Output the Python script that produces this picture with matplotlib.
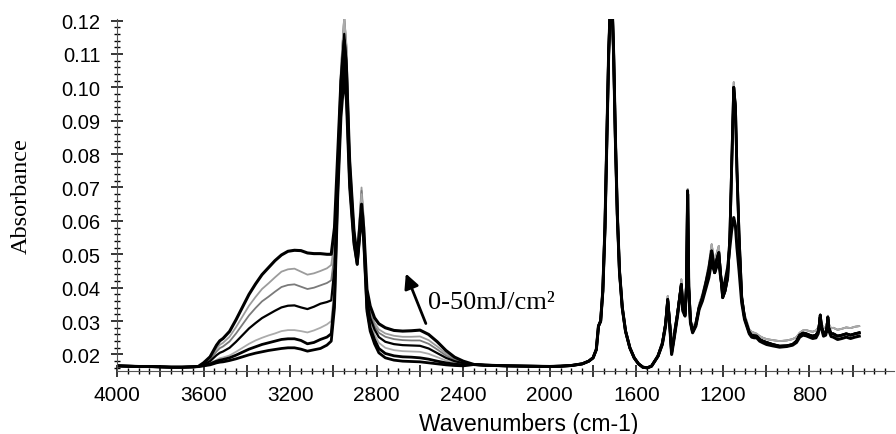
import matplotlib
matplotlib.use("Agg")
import matplotlib.pyplot as plt
from matplotlib.ticker import MultipleLocator, FuncFormatter

# wavenumber grids (cm-1)
wn_lo = [4000, 3950, 3900, 3850, 3800, 3750, 3700, 3650, 3625]
wn_hi = [3600, 3570, 3540, 3525, 3510, 3480, 3450, 3420, 3390, 3360,
         3330, 3300, 3270, 3240, 3210, 3180, 3150, 3120, 3090, 3060,
         3030, 3010, 2995, 2980, 2965, 2950, 2940, 2925, 2905, 2890,
         2880, 2870, 2860, 2845, 2830, 2810, 2790, 2760, 2720, 2680,
         2640, 2600, 2560, 2520, 2480, 2440, 2400]
wn_mid = [2350, 2300, 2200, 2100, 2000, 1950, 1900, 1850, 1820, 1800,
          1785, 1775, 1765, 1755, 1745, 1735, 1728, 1720, 1712, 1705,
          1697, 1688, 1678, 1665, 1650, 1630, 1610, 1590, 1570, 1550,
          1530, 1515]
wn_fp = [1500, 1480, 1465, 1455, 1445, 1437, 1425, 1410, 1400, 1392,
         1385, 1375, 1368, 1363, 1358, 1350, 1340, 1325, 1310, 1295,
         1280, 1265, 1252, 1245, 1238, 1230, 1219, 1210, 1201, 1190,
         1178, 1168, 1160, 1150, 1142, 1135, 1125, 1113, 1100, 1090,
         1078, 1067, 1055, 1044, 1030, 1015, 998, 970, 938, 905,
         878, 860, 845, 830, 815, 800, 785, 770, 760, 755,
         750, 745, 735, 725, 719, 715, 711, 700, 690, 670,
         650, 630, 610, 590, 570]

# absorbance, parts shared by all doses
abs_lo = [.0166, .0165, .0164, .0164, .0163, .0162, .0162, .0163, .0164]
abs_mid = [.0170, .0168, .0166, .0165, .0164, .0165, .0167, .0172, .0180, .0190,
           .0215, .0285, .0300, .0390, .0580, .0880, .1100, .1250, .1250, .1100,
           .0850, .0620, .0450, .0340, .0270, .0220, .0190, .0172, .0162, .0160,
           .0165, .0180]

# OH / CH region, one list per dose (top curve first)
hi_c1 = [.0175, .0193, .0228, .0241, .0248, .0269, .0304, .0342, .0380, .0411,
         .0439, .0460, .0481, .0498, .0509, .0512, .0511, .0504, .0502, .0502,
         .0500, .0500, .058, .080, .102, .114, .106, .078, .057, .049,
         .057, .065, .058, .0395, .0345, .0310, .0292, .0280, .0272, .0270,
         .0271, .0273, .0260, .0238, .0212, .0192, .0180]
hi_c2 = [.0174, .0188, .0218, .0229, .0235, .0253, .0282, .0314, .0346, .0372,
         .0396, .0413, .0431, .0448, .0455, .0457, .0448, .0439, .0443, .0450,
         .0458, .0468, .054, .080, .106, .121, .113, .080, .058, .050,
         .060, .070, .061, .039, .033, .0295, .0275, .0263, .0256, .0253,
         .0253, .0254, .0243, .0224, .0203, .0188, .0178]
hi_c3 = [.0172, .0185, .0209, .0219, .0224, .0239, .0263, .0290, .0317, .0339,
         .0359, .0373, .0388, .0402, .0408, .0410, .0403, .0396, .0400, .0407,
         .0414, .0422, .050, .078, .105, .121, .112, .079, .057, .049,
         .059, .069, .060, .038, .032, .0285, .0265, .0253, .0246, .0243,
         .0242, .0242, .0232, .0215, .0197, .0184, .0176]
hi_c4 = [.0170, .0180, .0198, .0205, .0209, .0220, .0238, .0258, .0278, .0294,
         .0309, .0320, .0331, .0341, .0346, .0347, .0341, .0336, .0343, .0352,
         .0357, .0362, .046, .075, .102, .116, .108, .076, .056, .048,
         .056, .064, .056, .037, .031, .0275, .0252, .0238, .0231, .0228,
         .0227, .0226, .0218, .0204, .0190, .0180, .0174]
hi_c5 = [.0168, .0174, .0184, .0189, .0191, .0197, .0208, .0220, .0232, .0242,
         .0250, .0257, .0263, .0270, .0273, .0273, .0270, .0266, .0272, .0280,
         .0290, .0300, .040, .074, .104, .121, .112, .078, .057, .049,
         .059, .068, .059, .036, .030, .026, .0235, .0220, .0213, .0210,
         .0209, .0208, .0202, .0192, .0182, .0176, .0172]
hi_c6 = [.0167, .0172, .0180, .0183, .0185, .0190, .0198, .0207, .0216, .0223,
         .0230, .0235, .0240, .0245, .0247, .0247, .0242, .0232, .0236, .0245,
         .0252, .0262, .037, .070, .095, .108, .100, .072, .054, .047,
         .055, .063, .055, .034, .028, .0245, .0218, .0203, .0196, .0193,
         .0192, .0190, .0186, .0180, .0175, .0171, .0169]
hi_c7 = [.0166, .0169, .0175, .0177, .0178, .0182, .0187, .0193, .0199, .0204,
         .0208, .0212, .0215, .0218, .0220, .0220, .0216, .0210, .0214, .0218,
         .0228, .0240, .034, .067, .091, .103, .096, .070, .053, .047,
         .054, .062, .054, .033, .027, .0232, .0205, .0190, .0183, .0180,
         .0179, .0178, .0175, .0172, .0169, .0167, .0166]

# fingerprint region, three shapes seen in the picture
fp_gray = [.0200, .0240, .0300, .0375, .0300, .0240, .0270, .0330, .0380, .0425,
           .0350, .0330, .0420, .0695, .0420, .0310, .0275, .0300, .0350, .0380,
           .0420, .0470, .0530, .0500, .0470, .0500, .0525, .0450, .0380, .0400,
           .0440, .0560, .0760, .1015, .0950, .0760, .0560, .0380, .0320, .0300,
           .0275, .0268, .0265, .0262, .0255, .0250, .0246, .0243, .0240, .0242,
           .0246, .0252, .0265, .0272, .0273, .0270, .0268, .0272, .0280, .0295,
           .0320, .0295, .0278, .0282, .0295, .0316, .0292, .0278, .0280, .0274,
           .0277, .0281, .0279, .0283, .0285]
fp_black = [.0195, .0232, .0290, .0365, .0285, .0205, .0255, .0320, .0370, .0410,
            .0335, .0320, .0410, .0690, .0405, .0300, .0268, .0290, .0340, .0370,
            .0410, .0455, .0510, .0480, .0445, .0480, .0505, .0435, .0370, .0390,
            .0430, .0550, .0750, .1000, .0940, .0750, .0550, .0370, .0310, .0290,
            .0266, .0258, .0256, .0255, .0245, .0240, .0236, .0230, .0225, .0226,
            .0230, .0240, .0258, .0264, .0262, .0258, .0255, .0258, .0268, .0285,
            .0318, .0285, .0262, .0266, .0282, .0312, .0280, .0262, .0262, .0255,
            .0258, .0262, .0258, .0262, .0265]
fp_c1 = [.0195, .0230, .0285, .0360, .0280, .0200, .0250, .0315, .0365, .0405,
         .0330, .0315, .0405, .0680, .0400, .0295, .0265, .0285, .0335, .0360,
         .0395, .0430, .0480, .0460, .0445, .0460, .0475, .0430, .0395, .0420,
         .0460, .0520, .0570, .0610, .0585, .0520, .0450, .0355, .0305, .0285,
         .0262, .0252, .0250, .0250, .0240, .0235, .0230, .0226, .0222, .0224,
         .0228, .0236, .0252, .0258, .0256, .0252, .0248, .0250, .0262, .0280,
         .0312, .0280, .0255, .0258, .0275, .0305, .0272, .0254, .0252, .0245,
         .0248, .0252, .0248, .0252, .0255]

wn = wn_lo + wn_hi + wn_mid + wn_fp

curves = [
    # (hi part, fingerprint, colour, width)
    (hi_c2, fp_gray, '#9c9c9c', 1.3),
    (hi_c3, fp_gray, '#7a7a7a', 1.3),
    (hi_c5, fp_gray, '#ababab', 1.3),
    (hi_c4, fp_black, 'black', 1.6),
    (hi_c6, fp_black, 'black', 2.0),
    (hi_c7, fp_black, 'black', 2.0),
    (hi_c1, fp_c1, 'black', 2.2),
]

fig = plt.figure(figsize=(8.96, 4.35), dpi=100)
ax = fig.add_axes([0.1306, 0.1444, 0.867, 0.810])

for hi, fp, col, lw in curves:
    ax.plot(wn, abs_lo + hi + abs_mid + fp, color=col, lw=lw)

ax.set_xlim(4000, 410)
ax.set_ylim(0.015, 0.1205)

ax.spines['top'].set_visible(False)
ax.spines['right'].set_visible(False)
ax.spines['left'].set_color('#555555')
ax.spines['bottom'].set_color('#555555')

ax.xaxis.set_major_locator(MultipleLocator(200))
ax.xaxis.set_minor_locator(MultipleLocator(50))
ax.xaxis.set_major_formatter(FuncFormatter(
    lambda v, p: '%d' % v if (round(v) % 400 == 0 and v >= 800) else ''))
ax.yaxis.set_major_locator(MultipleLocator(0.01))
ax.yaxis.set_minor_locator(MultipleLocator(0.002))
ax.yaxis.set_major_formatter(FuncFormatter(
    lambda v, p: '%.2f' % v if v >= 0.0199 else ''))

ax.tick_params(which='major', direction='inout', length=8, width=1.1)
ax.tick_params(which='minor', direction='inout', length=5, width=1.0)
ax.tick_params(axis='x', labelsize=15, pad=6)
ax.tick_params(axis='y', labelsize=14.5, pad=8)
for lab in ax.get_xticklabels() + ax.get_yticklabels():
    lab.set_family('Liberation Sans')

ax.set_xlabel('Wavenumbers (cm-1)', family='Liberation Sans', fontsize=16.5)
ax.xaxis.set_label_coords(0.53, -0.115)
ax.set_ylabel('Absorbance', family='Liberation Serif', fontsize=17.5)
ax.yaxis.set_label_coords(-0.11, 0.5)

ax.annotate('', xy=(2670, 0.045), xytext=(2568, 0.0285),
            arrowprops=dict(arrowstyle='-|>', mutation_scale=22, lw=2, color='black'))
ax.text(2563, 0.0357, '0-50mJ/cm²', family='Liberation Serif', fontsize=19,
        va='center', ha='left')

fig.savefig('out.png', dpi=100)
